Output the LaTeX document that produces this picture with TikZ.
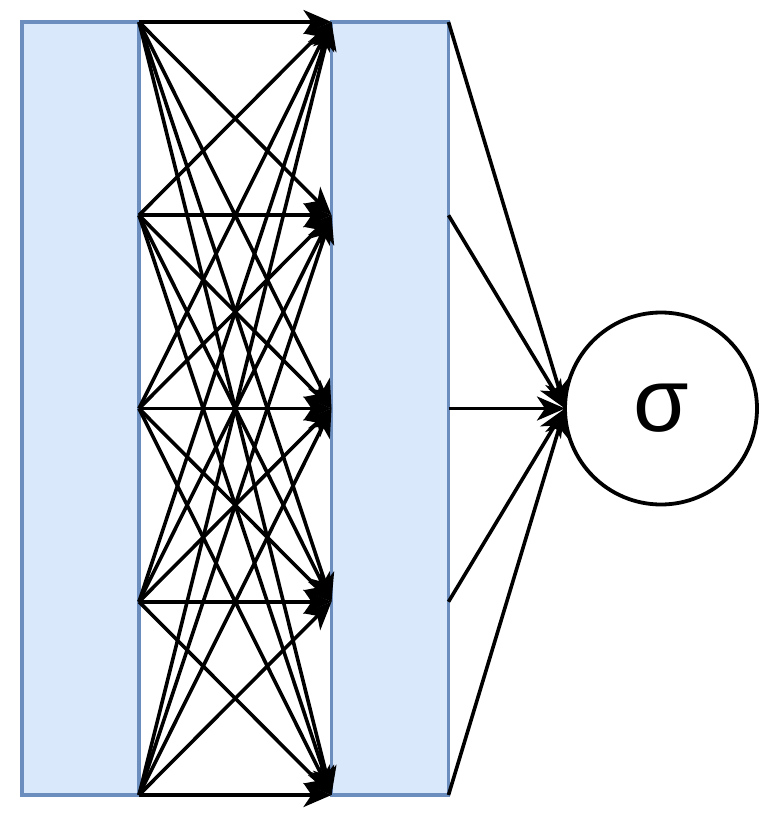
\documentclass[tikz,border=0pt]{standalone}
\usepackage{fontspec}
\setmainfont{Liberation Sans}
\usetikzlibrary{arrows.meta}
\definecolor{boxfill}{HTML}{DAE8FC}
\definecolor{boxdraw}{HTML}{6C8EBF}
\begin{document}
\begin{tikzpicture}[x=1pt,y=-1pt,
  layer/.style={draw=boxdraw,fill=boxfill,line width=3.5pt,minimum width=117pt,minimum height=773pt,inner sep=0pt,outer sep=0pt},
  conn/.style={line width=3.6pt,-{Stealth[length=28pt,width=24pt,inset=8pt]}},
  neuron/.style={circle,draw,line width=3.8pt,minimum size=192pt,inner sep=0pt,outer sep=0pt,font=\fontsize{90}{90}\selectfont}]
\useasboundingbox (0,0) rectangle (769,814);
\fill[white] (0,0) rectangle (769,814);
\node[layer] (L) at (80.5,408.5) {};
\node[layer] (M) at (390,408.5) {};
\node[neuron] (S) at (661,408.5) {σ};
\foreach \k in {0,...,4}{
  \coordinate (l\k) at (139,22+\k*193.25);
  \coordinate (m\k) at (331.5,22+\k*193.25);
  \coordinate (r\k) at (448.5,22+\k*193.25);
}
\foreach \i in {0,...,4}{
  \foreach \j in {0,...,4}{
    \draw[conn] (l\i) -- (m\j);
  }
  \draw[conn] (r\i) -- (S.west);
}
\end{tikzpicture}
\end{document}
